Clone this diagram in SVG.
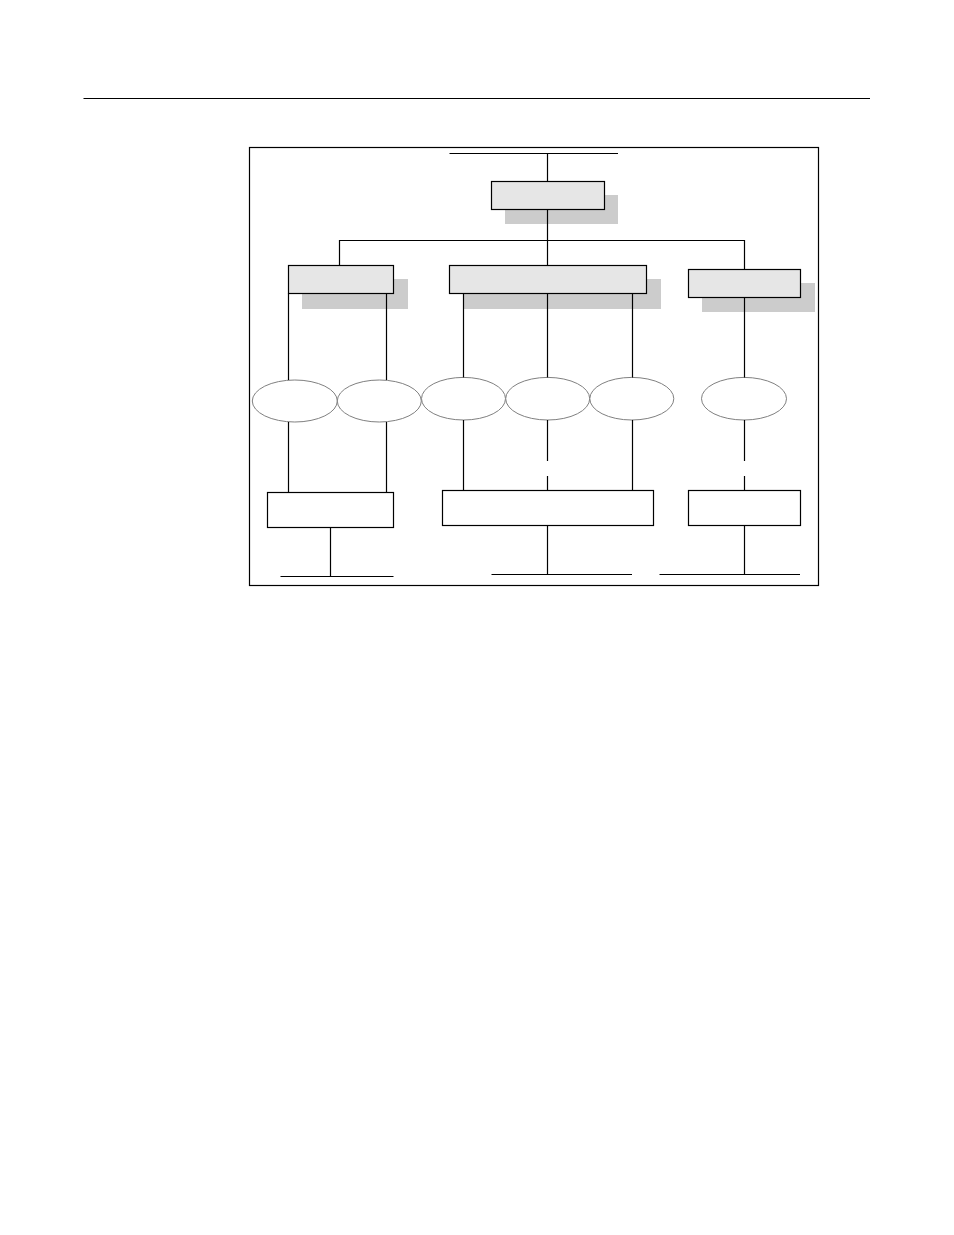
<svg xmlns="http://www.w3.org/2000/svg" width="954" height="1235" viewBox="0 0 954 1235">
<style>
.ln{stroke:#000;stroke-width:1.2;fill:none}
.box{fill:#e6e6e6;stroke:#000;stroke-width:1.2}
.wbox{fill:#fff;stroke:#000;stroke-width:1.2}
.sh{fill:#cccccc;stroke:none}
.ell{fill:#fff;stroke:#808080;stroke-width:1}
</style>
<rect width="954" height="1235" fill="#fff"/>
<line class="ln" x1="83.5" y1="98.5" x2="870" y2="98.5"/>
<rect id="frame" class="ln" x="249.5" y="147.5" width="569" height="438"/>
<g id="top">
<rect class="sh" x="505" y="195" width="113" height="29"/>
<rect class="box" x="491.5" y="181.5" width="113" height="28"/>
</g>
<g id="left">
<rect class="sh" x="302" y="279" width="106" height="30"/>
<rect class="box" x="288.5" y="265.5" width="105" height="28"/>
</g>
<g id="middle">
<rect class="sh" x="463" y="279" width="198" height="30"/>
<rect class="box" x="449.5" y="265.5" width="197" height="28"/>
</g>
<g id="right">
<rect class="sh" x="702" y="283" width="113" height="29"/>
<rect class="box" x="688.5" y="269.5" width="112" height="28"/>
</g>
<g id="e1"><ellipse class="ell" cx="294.8" cy="401" rx="42.5" ry="21"/></g>
<g id="e2"><ellipse class="ell" cx="379.3" cy="401" rx="42" ry="21"/></g>
<g id="e3"><ellipse class="ell" cx="463.5" cy="398.7" rx="42" ry="21.3"/></g>
<g id="e4"><ellipse class="ell" cx="547.7" cy="398.7" rx="42" ry="21.3"/></g>
<g id="e5"><ellipse class="ell" cx="631.8" cy="398.7" rx="42" ry="21.3"/></g>
<g id="e6"><ellipse class="ell" cx="744" cy="398.7" rx="42.5" ry="21.3"/></g>
<g id="bl"><rect class="wbox" x="267.5" y="492.5" width="126" height="35"/></g>
<g id="bm"><rect class="wbox" x="442.5" y="490.5" width="211" height="35"/></g>
<g id="br"><rect class="wbox" x="688.5" y="490.5" width="112" height="35"/></g>
<g id="connectors">
<line class="ln" x1="449.5" y1="153.5" x2="618" y2="153.5"/>
<line class="ln" x1="547.5" y1="153.5" x2="547.5" y2="181.5"/>
<polyline class="ln" points="339.5,265.5 339.5,240.5 744.5,240.5 744.5,269.5"/>
<line class="ln" x1="547.5" y1="209.5" x2="547.5" y2="265.5"/>
<line class="ln" x1="288.5" y1="293.5" x2="288.5" y2="380"/>
<line class="ln" x1="386.5" y1="293.5" x2="386.5" y2="380"/>
<line class="ln" x1="463.5" y1="293.5" x2="463.5" y2="377.5"/>
<line class="ln" x1="547.5" y1="293.5" x2="547.5" y2="377.5"/>
<line class="ln" x1="632.5" y1="293.5" x2="632.5" y2="377.5"/>
<line class="ln" x1="744.5" y1="297.5" x2="744.5" y2="377.5"/>
<line class="ln" x1="288.5" y1="422" x2="288.5" y2="492.5"/>
<line class="ln" x1="386.5" y1="422" x2="386.5" y2="492.5"/>
<line class="ln" x1="463.5" y1="420" x2="463.5" y2="490.5"/>
<line class="ln" x1="547.5" y1="420" x2="547.5" y2="461"/>
<line class="ln" x1="547.5" y1="476" x2="547.5" y2="490.5"/>
<line class="ln" x1="632.5" y1="420" x2="632.5" y2="490.5"/>
<line class="ln" x1="744.5" y1="420" x2="744.5" y2="461"/>
<line class="ln" x1="744.5" y1="476" x2="744.5" y2="490.5"/>
<line class="ln" x1="330.5" y1="527.5" x2="330.5" y2="576.5"/>
<line class="ln" x1="280.5" y1="576.5" x2="393.5" y2="576.5"/>
<line class="ln" x1="547.5" y1="525.5" x2="547.5" y2="574.5"/>
<line class="ln" x1="491.5" y1="574.5" x2="632" y2="574.5"/>
<line class="ln" x1="744.5" y1="525.5" x2="744.5" y2="574.5"/>
<line class="ln" x1="659.5" y1="574.5" x2="800" y2="574.5"/>
</g>
</svg>
